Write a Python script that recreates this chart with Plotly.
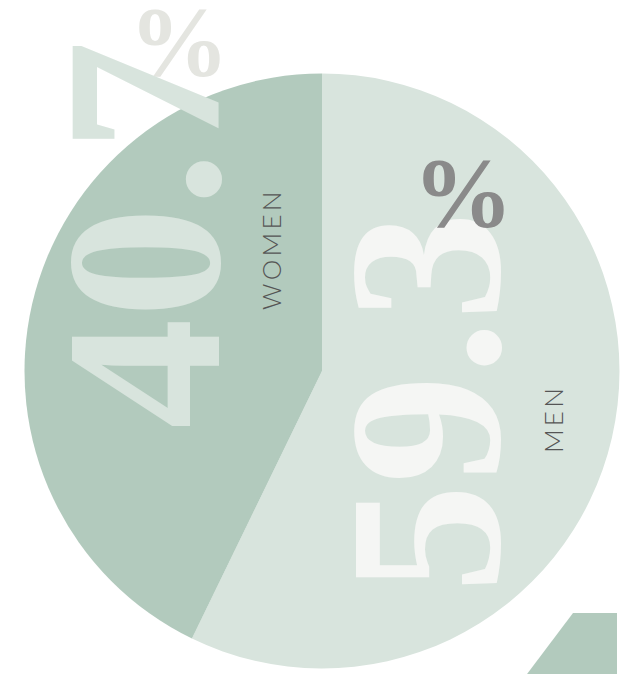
import plotly.graph_objects as go

W, H = 633, 674
OFF = 8  # page body margin in the browser

# data
groups = ["MEN", "WOMEN"]
slice_values = [57.2, 42.8]          # angular share as drawn in the picture
label_values = ["59.3", "40.7"]      # printed percentages
slice_colors = ["#d8e4dd", "#b2cabd"]

def px(x):
    return (x - OFF) / W

def py(y):
    return 1 - (y - OFF) / H

cx, cy, r = 322, 371, 297.5

fig = go.Figure()
fig.add_trace(go.Pie(
    labels=groups, values=slice_values, sort=False, direction="clockwise",
    rotation=0, marker=dict(colors=slice_colors, line=dict(width=0)),
    textinfo="none", hoverinfo="skip", showlegend=False,
    domain=dict(x=[px(cx - r), px(cx + r)], y=[py(cy + r), py(cy - r)]),
))

serif = "Liberation Serif"
ann = []
# light % behind the 7
ann.append(dict(text="<b>%</b>", x=px(179), y=py(42), font=dict(family=serif, size=100, color="#e4e5e0"), textangle=0))
# 40.7
ann.append(dict(text="<b>" + label_values[1] + "</b>", x=px(144), y=py(235), font=dict(family=serif, size=222, color="#d8e4dd"), textangle=-90))
# 59.3
ann.append(dict(text="<b>" + label_values[0] + "</b>", x=px(425), y=py(402), font=dict(family=serif, size=218, color="#f5f6f4"), textangle=-90))
# dark %
ann.append(dict(text="<b>%</b>", x=px(463), y=py(192), font=dict(family=serif, size=100, color="#8a8a8a"), textangle=0))
# group labels
ann.append(dict(text="W O M E N".replace(" ", "\u2009"), x=px(271), y=py(251), font=dict(family="Lato", size=26, color="#555555", weight=300), textangle=-90))
ann.append(dict(text="M E N".replace(" ", "\u2009"), x=px(553), y=py(421), font=dict(family="Lato", size=26, color="#555555", weight=300), textangle=-90))

for a in ann:
    a.update(xref="paper", yref="paper", xanchor="center", yanchor="middle", showarrow=False)

fig.update_layout(
    width=W, height=H, margin=dict(l=0, r=0, t=0, b=0),
    paper_bgcolor="white", plot_bgcolor="white",
    annotations=ann,
    shapes=[dict(type="path", xref="paper", yref="paper",
                 path=f"M {px(573)} {py(613)} L {px(617)} {py(613)} L {px(617)} {py(690)} L {px(515)} {py(690)} Z",
                 fillcolor="#b2cabd", line=dict(width=0), layer="above")],
)
fig.write_html("out.html")
